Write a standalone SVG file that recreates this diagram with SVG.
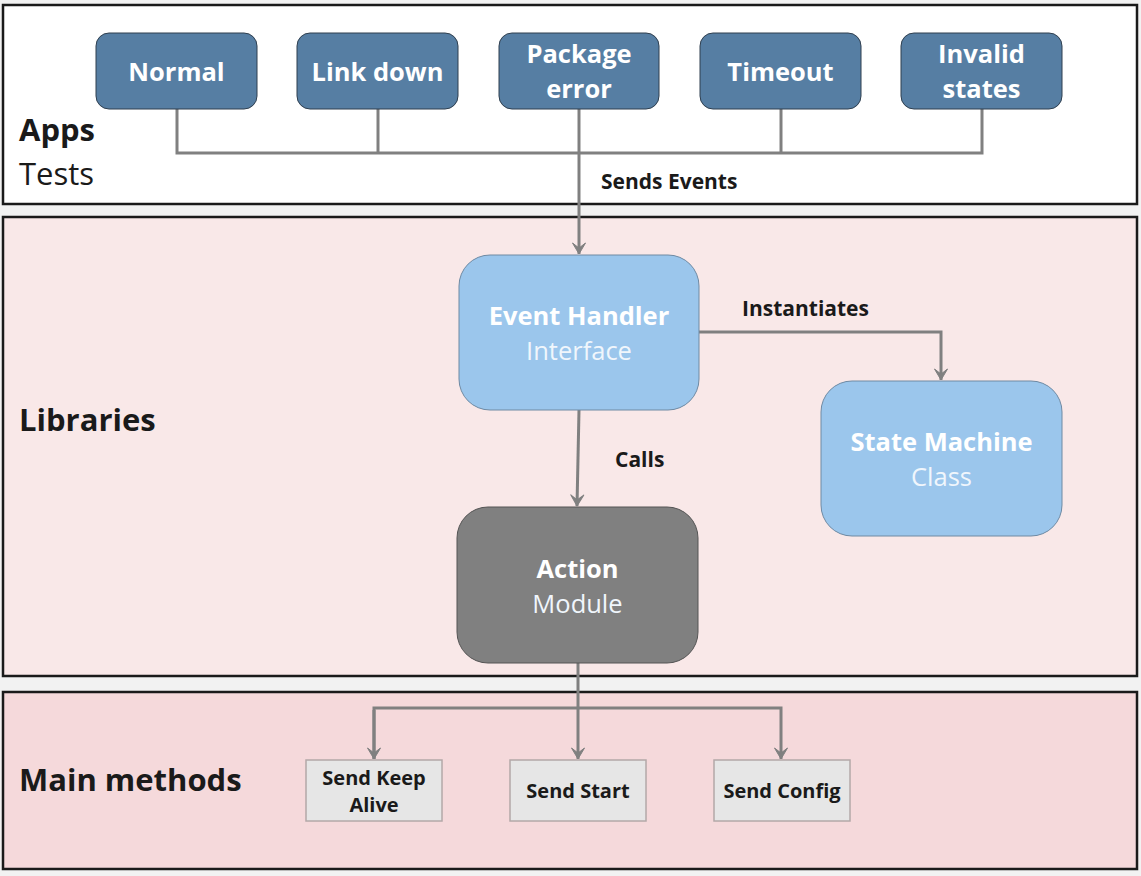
<svg xmlns="http://www.w3.org/2000/svg" width="1141" height="876" viewBox="0 0 1141 876">
<defs>
<marker id="arr" markerWidth="16" markerHeight="16" refX="13" refY="8" orient="auto" markerUnits="userSpaceOnUse" viewBox="0 0 16 16">
<path d="M2,1.5 L13,8 L2,14.5 L7,8 Z" fill="#808080" stroke="#808080" stroke-width="1" stroke-linejoin="round"/>
</marker>
<style>
text{font-family:"Open Sans","Noto Sans","Liberation Sans",sans-serif}
.lane{stroke:#1a1a1a;stroke-width:2.5}
.lanelbl{font-size:31px;fill:#1a1a1a}
.app rect{fill:#567ea3;stroke:#2f3f4f;stroke-width:1}
.app text{font-size:25.5px;font-weight:bold;fill:#ffffff;text-anchor:middle}
.big text{text-anchor:middle;fill:#ffffff;font-size:25.5px}
.big .t{font-weight:bold}
.big .s{fill:#f0f6fc}
.meth rect{fill:#e6e6e6;stroke:#b3a8a8;stroke-width:1.5}
.meth text{font-size:20px;font-weight:bold;fill:#1a1a1a;text-anchor:middle}
.conn{fill:none;stroke:#808080;stroke-width:3}
.clbl{font-size:21px;font-weight:bold;fill:#1a1a1a}
</style>
</defs>
<rect x="0" y="0" width="1141" height="876" fill="#f2f2f2"/>
<g id="lanes">
<rect class="lane" x="3" y="5" width="1134" height="199" fill="#ffffff"/>
<rect class="lane" x="3" y="217" width="1134" height="459" fill="#f9e8e8"/>
<rect class="lane" x="3" y="692" width="1134" height="177" fill="#f5d9db"/>
<text class="lanelbl" x="19" y="141" font-weight="bold">Apps</text>
<text class="lanelbl" x="19" y="185">Tests</text>
<text class="lanelbl" x="19" y="431" font-weight="bold">Libraries</text>
<text class="lanelbl" x="19" y="791" font-weight="bold">Main methods</text>
</g>
<g id="connectors">
<path class="conn" d="M177,109 V153 H982 V109"/>
<path class="conn" d="M378,109 V153"/>
<path class="conn" d="M781,109 V153"/>
<path class="conn" d="M579,109 V254" marker-end="url(#arr)"/>
<text class="clbl" x="601" y="189">Sends Events</text>
<path class="conn" d="M699,332 H941 V380" marker-end="url(#arr)"/>
<text class="clbl" x="742" y="316">Instantiates</text>
<path class="conn" d="M579,410 L577,506" marker-end="url(#arr)"/>
<text class="clbl" x="615" y="467">Calls</text>
<path class="conn" d="M578,663 V759" marker-end="url(#arr)"/>
<path class="conn" d="M374,759 V708 H781 V759" marker-end="url(#arr)"/>
<path class="conn" d="M374,710 V759" marker-end="url(#arr)"/>
</g>
<g id="normal" class="app"><rect x="96" y="33" width="161" height="76" rx="13"/><text x="176.5" y="81">Normal</text></g>
<g id="linkdown" class="app"><rect x="297" y="33" width="161" height="76" rx="13"/><text x="377.5" y="81">Link down</text></g>
<g id="packageerror" class="app"><rect x="499" y="33" width="160" height="76" rx="13"/><text x="579" y="63">Package</text><text x="579" y="98">error</text></g>
<g id="timeout" class="app"><rect x="700" y="33" width="161" height="76" rx="13"/><text x="780.5" y="81">Timeout</text></g>
<g id="invalidstates" class="app"><rect x="901" y="33" width="161" height="76" rx="13"/><text x="981.5" y="63">Invalid</text><text x="981.5" y="98">states</text></g>
<g id="eventhandler" class="big"><rect x="459" y="255" width="240" height="155" rx="31" fill="#9bc6ec" stroke="#6f8aa3" stroke-width="1"/><text class="t" x="579" y="325">Event Handler</text><text class="s" x="579" y="360">Interface</text></g>
<g id="statemachine" class="big"><rect x="821" y="381" width="241" height="155" rx="31" fill="#9bc6ec" stroke="#6f8aa3" stroke-width="1"/><text class="t" x="941.5" y="451">State Machine</text><text class="s" x="941.5" y="486">Class</text></g>
<g id="action" class="big"><rect x="457" y="507" width="241" height="156" rx="31" fill="#808080" stroke="#555555" stroke-width="1"/><text class="t" x="577.5" y="578">Action</text><text class="s" x="577.5" y="613">Module</text></g>
<g id="sendkeepalive" class="meth"><rect x="306" y="760" width="136" height="61"/><text x="374" y="785">Send Keep</text><text x="374" y="812">Alive</text></g>
<g id="sendstart" class="meth"><rect x="510" y="760" width="136" height="61"/><text x="578" y="798">Send Start</text></g>
<g id="sendconfig" class="meth"><rect x="714" y="760" width="136" height="61"/><text x="782" y="798">Send Config</text></g>
</svg>
